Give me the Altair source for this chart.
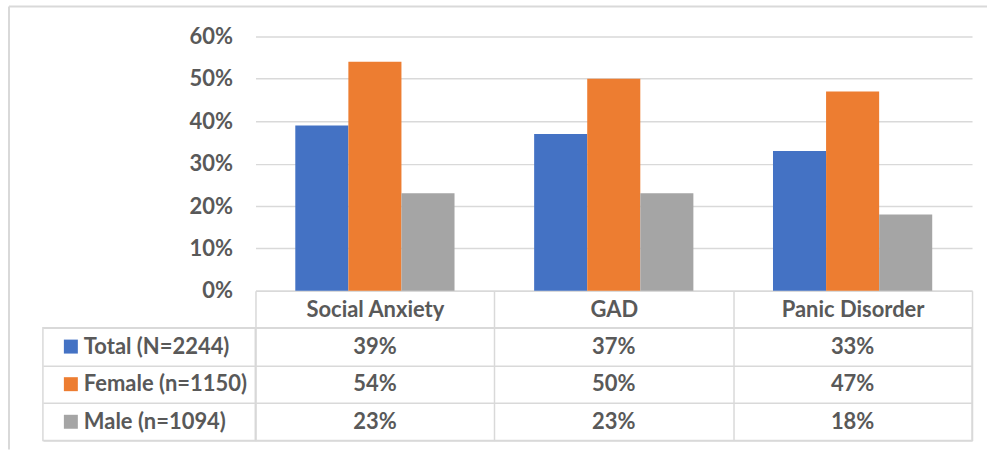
import altair as alt
import pandas as pd

# Disorder categories, the three respondent groups and their prevalence (fraction of group)
categories = ["Social Anxiety", "GAD", "Panic Disorder"]
series = ["Total (N=2244)", "Female (n=1150)", "Male (n=1094)"]
total = [0.39, 0.37, 0.33]
female = [0.54, 0.50, 0.47]
male = [0.23, 0.23, 0.18]
colors = ["#4472C4", "#ED7D31", "#A5A5A5"]
y_ticks = [0, 0.1, 0.2, 0.3, 0.4, 0.5, 0.6]

records = []
for name, vals in zip(series, [total, female, male]):
    for cat, v in zip(categories, vals):
        records.append({"series": name, "category": cat, "value": v})
df = pd.DataFrame(records)
series_df = pd.DataFrame({"series": series})
one_df = pd.DataFrame({"k": [0]})

FONT = "Lato"
TEXT = "#595959"
LINE = "#D9D9D9"
FS = 22

color = alt.Color("series:N", scale=alt.Scale(domain=series, range=colors), legend=None)

# ---- clustered bars, with the category header row drawn by the x axis ----
bars = alt.Chart(df).mark_bar().encode(
    x=alt.X(
        "category:N",
        sort=categories,
        scale=alt.Scale(domain=categories, paddingInner=0, paddingOuter=0),
        axis=alt.Axis(
            title=None, orient="bottom", labelAngle=0, grid=False,
            tickBand="extent", tickSize=37, tickColor=LINE, tickWidth=1.5,
            domainColor=LINE, domainWidth=1.5,
            labelPadding=-18, labelBaseline="middle",
            labelFont=FONT, labelFontSize=FS, labelFontWeight="bold", labelColor=TEXT,
        ),
    ),
    xOffset=alt.XOffset(
        "series:N", sort=series,
        scale=alt.Scale(domain=series, paddingInner=0, paddingOuter=0.75),
    ),
    y=alt.Y(
        "value:Q",
        scale=alt.Scale(domain=[0, 0.6]),
        axis=alt.Axis(
            values=y_ticks, format=".0%", title=None, domain=False, ticks=False,
            gridColor=LINE, gridWidth=1.5, labelPadding=23,
            labelFont=FONT, labelFontSize=FS, labelFontWeight="bold", labelColor=TEXT,
        ),
    ),
    color=color,
)

# outer chart frame (top and left edges)
frame = alt.Chart(one_df).mark_rule(color=LINE, strokeWidth=2)
frame_left = frame.encode(x=alt.value(-247), y=alt.value(-30), y2=alt.value(414))
frame_top = frame.encode(x=alt.value(-247), x2=alt.value(733), y=alt.value(-30))

top = alt.layer(bars, frame_left, frame_top).properties(width=718, height=255)

spacer = alt.Chart(one_df).mark_point(opacity=0).encode(
    x=alt.value(0), y=alt.value(0)
).properties(width=213, height=255)

# ---- data table below the bars ----
row_y = alt.Y(
    "series:N",
    sort=series,
    scale=alt.Scale(type="band", domain=series, paddingInner=0, paddingOuter=0),
    axis=alt.Axis(
        title=None, labels=False, ticks=False, domain=False,
        grid=True, tickBand="extent", gridColor=LINE, gridWidth=1.5,
    ),
)

table_view = alt.ViewBackground(stroke=LINE, strokeWidth=1.5)

label_base = alt.Chart(series_df).encode(y=row_y)
swatches = label_base.mark_square(size=196, opacity=1).encode(x=alt.value(28), color=color)
names = label_base.mark_text(
    align="left", baseline="middle", font=FONT, fontSize=FS, fontWeight="bold", color=TEXT
).encode(x=alt.value(41), text="series:N")
labels = alt.layer(swatches, names).properties(width=213, height=113, view=table_view)

cells = alt.Chart(df).mark_text(
    align="center", baseline="middle", font=FONT, fontSize=FS, fontWeight="bold", color=TEXT
).encode(
    x=alt.X(
        "category:N",
        sort=categories,
        scale=alt.Scale(type="band", domain=categories, paddingInner=0, paddingOuter=0),
        axis=alt.Axis(
            title=None, labels=False, ticks=False, domain=False,
            grid=True, tickBand="extent", gridColor=LINE, gridWidth=1.5,
        ),
    ),
    y=row_y,
    text=alt.Text("value:Q", format=".0%"),
).properties(width=718, height=113, view=table_view)

chart = alt.concat(
    spacer, top, labels, cells,
    columns=2, spacing={"row": 37, "column": 0}, bounds="flush",
).properties(
    padding={"left": 7, "top": 4, "right": 0, "bottom": 0},
).configure(
    background="white",
    view=alt.ViewConfig(stroke="transparent"),
)

chart.save("out.html", embed_options={"renderer": "svg", "actions": False})
